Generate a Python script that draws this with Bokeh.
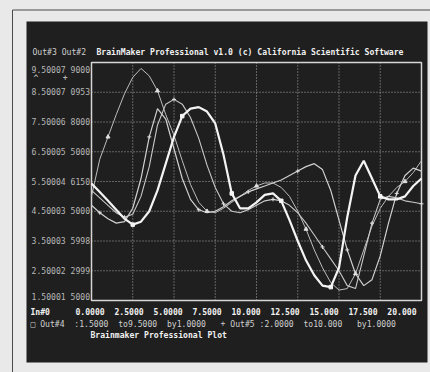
from bokeh.plotting import figure
from bokeh.models import Range1d
from bokeh.core.properties import value
from bokeh.embed import file_html
from bokeh.resources import INLINE

# ---------------- data ----------------
x_vals = [0.0, 0.5, 1.0, 1.5, 2.0, 2.5, 3.0, 3.5, 4.0, 4.5,
          5.0, 5.5, 6.0, 6.5, 7.0, 7.5, 8.0, 8.5, 9.0, 9.5,
          10.0, 10.5, 11.0, 11.5, 12.0, 12.5, 13.0, 13.5, 14.0, 14.5,
          15.0, 15.5, 16.0, 16.5, 17.0, 17.5, 18.0, 18.5, 19.0, 19.5, 20.0]

out4 = [5.43, 5.15, 4.85, 4.55, 4.25, 4.05, 4.15, 4.5, 5.2, 6.1,
        7.0, 7.7, 7.95, 8.0, 7.85, 7.45, 6.4, 5.1, 4.6, 4.6,
        4.8, 5.05, 5.1, 4.85, 4.2, 3.5, 2.85, 2.35, 2.0, 1.95,
        2.6, 4.3, 5.7, 6.2, 5.6, 5.0, 4.9, 4.9, 5.0, 5.35, 5.6]

out3 = [5.0, 6.25, 7.0, 7.75, 8.45, 9.0, 9.3, 9.05, 8.55, 7.75,
        7.05, 6.2, 5.4, 4.8, 4.5, 4.45, 4.6, 4.8, 5.0, 5.2,
        5.35, 5.45, 5.45, 5.3, 5.0, 4.5, 3.9, 3.2, 2.6, 2.1,
        1.85, 1.9, 2.4, 3.2, 4.0, 4.6, 5.0, 5.3, 5.5, 5.8, 6.2]

out2 = [5.2, 4.95, 4.7, 4.45, 4.3, 4.4, 5.0, 6.0, 7.4, 8.1,
        8.26, 8.1, 7.65, 6.95, 6.05, 5.3, 4.75, 4.5, 4.45, 4.55,
        4.7, 4.85, 4.9, 4.85, 4.7, 4.45, 4.1, 3.7, 3.3, 2.9,
        2.5, 2.0, 1.9, 3.0, 4.1, 4.9, 5.0, 4.95, 4.85, 4.8, 4.75]

out5 = [4.7, 4.45, 4.25, 4.1, 4.15, 4.6, 5.6, 7.0, 7.95, 7.6,
        6.6, 5.6, 4.9, 4.55, 4.45, 4.5, 4.65, 4.85, 5.0, 5.15,
        5.25, 5.35, 5.45, 5.55, 5.7, 5.85, 6.0, 6.1, 5.9, 5.2,
        4.2, 3.2, 2.4, 2.0, 2.2, 3.0, 4.1, 5.1, 5.7, 5.95, 5.85]

x_ticks = [0.0, 2.5, 5.0, 7.5, 10.0, 12.5, 15.0, 17.5, 20.0]
x_tick_labels = ["0.0000", "2.5000", "5.0000", "7.5000", "10.000",
                 "12.500", "15.000", "17.500", "20.000"]
y_ticks = [1.5, 2.5, 3.5, 4.5, 5.5, 6.5, 7.5, 8.5, 9.5]
y_tick_labels = ["1.50001 5000", "2.50002 2999", "3.50003 5998",
                 "4.50003 5000", "5.50004 6150", "6.50005 5000",
                 "7.50006 8000", "8.50007 0953", "9.50007 9000"]

title_text = "BrainMaker Professional v1.0 (c) California Scientific Software"
out_cols_text = "Out#3 Out#2"
out_marks_text = "^     +"
in_label_text = "In#0"
range_text = ("\u25a1 Out#4  :1.5000  to9.5000  by1.0000   "
              "+ Out#5 :2.0000  to10.000   by1.0000")
footer_text = "Brainmaker Professional Plot"

# ---------------- layout helpers (pixel -> data, for placement only) ----------------
W, H = 430, 372
BOX_L, BOX_R, BOX_T, BOX_B = 91, 421, 62, 300
X0, X1, Y0, Y1 = 0.0, 20.0, 1.5, 9.5
SX = (BOX_R - BOX_L) / (X1 - X0)
SY = (BOX_B - BOX_T) / (Y1 - Y0)


def px2x(px):
    return X0 + (px - BOX_L) / SX


def py2y(py):
    return Y1 - (py - BOX_T) / SY


def y2py(y):
    return BOX_T + (Y1 - y) * SY


PAGE = "#e9e9e9"
SCREEN = "#1f1f1f"
TXT = "#b8b8b8"
TXT_H = "#cfcfcf"
TXT_B = "#f0f0f0"
MONO = "DejaVu Sans Mono"
FS = "8.1px"

p = figure(width=W, height=H, output_backend="svg", toolbar_location=None,
           title=None,
           x_range=Range1d(px2x(0), px2x(W)), y_range=Range1d(py2y(H), py2y(0)),
           x_axis_location=None, y_axis_location=None,
           min_border=0, min_border_left=0, min_border_right=0,
           min_border_top=0, min_border_bottom=0)
p.border_fill_color = PAGE
p.background_fill_color = PAGE
p.outline_line_color = None
p.grid.visible = False

# outer page frame line and the dark screen
p.segment(x0=[px2x(12), px2x(12)], y0=[py2y(9.5), py2y(9.5)],
          x1=[px2x(W + 5), px2x(12)], y1=[py2y(9.5), py2y(H + 5)],
          line_color="#4a4a4a", line_width=1)
p.quad(left=[px2x(26)], right=[px2x(427)], top=[py2y(21)], bottom=[py2y(362)],
       fill_color=SCREEN, line_color=None)

# dotted grid inside the plot box
p.segment(x0=x_ticks, x1=x_ticks, y0=[Y0] * len(x_ticks), y1=[Y1] * len(x_ticks),
          line_color="#a8a8a8", line_width=1, line_dash="1 2")
p.segment(x0=[X0] * len(y_ticks), x1=[X1] * len(y_ticks), y0=y_ticks, y1=y_ticks,
          line_color="#a8a8a8", line_width=1, line_dash="1 2")

# plot box
p.quad(left=[X0], right=[X1], bottom=[Y0], top=[Y1],
       fill_color=None, line_color="#d6d6d6", line_width=1.5)

# curves
p.line(x_vals, out3, line_color="#bdbdbd", line_width=1.0)
p.line(x_vals, out2, line_color="#c8c8c8", line_width=1.1)
p.line(x_vals, out5, line_color="#d0d0d0", line_width=1.2)
p.line(x_vals, out4, line_color="#f4f4f4", line_width=2.2)

p.scatter(x_vals[2::6], out3[2::6], marker="triangle", size=4,
          fill_color="#e0e0e0", line_color="#e0e0e0")
p.scatter(x_vals[4::6], out2[4::6], marker="cross", size=4,
          line_color="#e0e0e0", line_width=1)
p.scatter(x_vals[1::6], out5[1::6], marker="cross", size=4,
          line_color="#e0e0e0", line_width=1)
p.scatter(x_vals[5::6], out4[5::6], marker="square", size=3.5,
          fill_color="#f4f4f4", line_color="#f4f4f4")


def txt(texts, xs, ys, color, bold=False, align="left"):
    # non-breaking spaces keep the character-cell layout of the screen
    texts = [t.replace(" ", "\u00a0") for t in texts]
    p.text(x=xs, y=ys, text=texts, text_font=value(MONO), text_font_size=FS,
           text_color=color, text_baseline="middle", text_align=align,
           text_font_style="bold" if bold else "normal")


# y tick labels (right aligned against the plot box, kept inside the screen rows)
y_lab_pos = [py2y(min(max(y2py(t), BOX_T + 7), BOX_B - 4)) for t in y_ticks]
txt(y_tick_labels, [px2x(89.5)] * len(y_ticks), y_lab_pos, TXT, align="right")

# header line
txt([out_cols_text], [px2x(32)], [py2y(51)], TXT_H)
txt([title_text], [px2x(96)], [py2y(51)], TXT_B, bold=True)
txt([out_marks_text], [px2x(33)], [py2y(77)], TXT_H)

# x tick labels: one character-cell line, as on the original screen
txt([in_label_text], [px2x(30)], [py2y(311)], TXT_B, bold=True)
txt(["  ".join(x_tick_labels)], [px2x(75)], [py2y(311)], TXT_B, bold=True)

# range line and footer
txt([range_text], [px2x(30)], [py2y(323)], TXT_H)
txt([footer_text], [px2x(90)], [py2y(334)], TXT_B, bold=True)

html = file_html(p, INLINE)
html = html.replace("</head>", "<style>body{background:%s;}</style></head>" % PAGE, 1)
open("out.html", "w").write(html)
